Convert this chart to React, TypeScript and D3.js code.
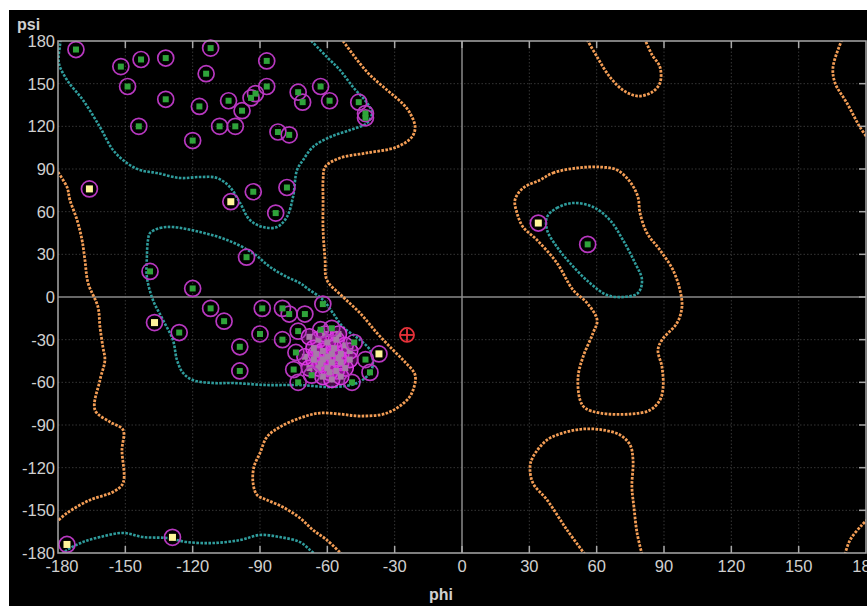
import React, { useEffect, useRef } from 'react';
import * as d3 from 'd3';

// tick values (degrees)
const ticks = [-180, -150, -120, -90, -60, -30, 0, 30, 60, 90, 120, 150, 180];

// residues: [phi, psi]
const greenPoints = [
  [-172, 174], [-152, 162], [-143, 167], [-132, 168], [-149, 148], [-132, 139], [-144, 120],
  [-112, 175], [-114, 157], [-120, 110], [-117, 134], [-104, 138], [-98, 131], [-94, 140],
  [-92, 143], [-87, 166], [-87, 148], [-108, 120], [-101, 120], [-73, 144], [-82, 116],
  [-77, 114], [-93, 74], [-78, 77], [-83, 59], [-71, 137], [-63, 148], [-59, 138],
  [-46, 137], [-43, 129], [-43, 126],
  [-139, 18], [-120, 6], [-126, -25], [-112, -8], [-106, -17], [-99, -35], [-99, -52],
  [-96, 28], [-89, -8], [-90, -26], [-80, -8], [-77, -12], [-80, -30], [-73, -60],
  [-70, -12], [-62, -5], [-73, -24], [-74, -39], [-75, -51], [-67, -55], [-63, -23],
  [-58, -22], [-48, -32], [-49, -60], [-43, -44], [-41, -53],
  [56, 37],
];

const clusterPoints = [
  [-68, -28], [-64, -30], [-60, -32], [-56, -30], [-52, -34], [-66, -36], [-62, -38],
  [-58, -40], [-54, -40], [-50, -38], [-70, -42], [-66, -44], [-62, -44], [-58, -46],
  [-54, -46], [-50, -44], [-64, -50], [-60, -50], [-56, -52], [-52, -50], [-68, -50],
  [-62, -56], [-58, -58], [-54, -56], [-60, -42], [-57, -36], [-63, -47], [-55, -43],
  [-65, -40], [-59, -53], [-61, -26], [-55, -26],
];

const yellowPoints = [
  [-166, 76], [-103, 67], [-137, -18], [-37, -40], [-176, -174], [-129, -169], [34, 52],
];

const outlierPoints = [[-24.5, -26.7]];

// allowed region contours (orange), open polylines clipped at the box
const allowedLines = [
  [[-53, 180], [-42.3, 158.2], [-33.4, 145.5], [-26.7, 136.4], [-23.2, 129.4], [-20.9, 119.5],
   [-22.3, 112.5], [-29, 105.5], [-42.3, 101.3], [-54.4, 97.7], [-61, 91.4], [-61.9, 82.3],
   [-61.9, 68.2], [-61.9, 47.1], [-61, 26], [-60.2, 12], [-53, 0], [-45.4, -11.3],
   [-37.9, -25.3], [-30.7, -37.3], [-25.4, -45.7], [-20.9, -54.8], [-21.8, -65.4],
   [-24.5, -72.4], [-33.4, -81.6], [-45.4, -83.7], [-54.4, -82.3], [-63.3, -81.6],
   [-72.2, -85.1], [-81.1, -91.4], [-86.9, -98.4], [-90, -109.7], [-92.7, -119.5],
   [-93.1, -130.8], [-91.3, -139.2], [-86.9, -142.7], [-79.8, -147.7], [-72.2, -155.4],
   [-66.4, -163.8], [-60.2, -170.9], [-53.5, -181]],
  [[-181, 90], [-176, 77.3], [-174.7, 68.2], [-171.5, 54.1], [-169.3, 40.1], [-168, 26],
   [-166.6, 9.8], [-162.2, -7], [-161.3, -21.1], [-160, -35.2], [-159.1, -44.3],
   [-161.3, -58.4], [-163.5, -79.5], [-156.8, -87.9], [-151, -93.5], [-151.5, -107.6],
   [-151, -130.8], [-155.5, -137.1], [-165.7, -142.7], [-176, -151.9], [-181, -158.8]],
  [[169.3, 181], [165.3, 161.7], [166.2, 150.5], [171.5, 136.4], [177.3, 119.5], [181, 111]],
  [[170.6, -181], [172.9, -170.9], [178.2, -160.3], [181, -156]],
  [[54.8, -181], [46.8, -163.8], [37.9, -142.7], [31.6, -130.8], [30.3, -119.5], [31.6, -112.5],
   [37.9, -100.5], [45, -95.6], [53.9, -92.8], [62.8, -93.5], [70.4, -97], [74.9, -104.1],
   [76.2, -114.6], [75.7, -133.6], [76.6, -147.7], [78, -165.9], [80.2, -181]],
  [[55.7, 181], [60.2, 168.8], [65.9, 154.7], [71.7, 145.5], [78.4, 141.3], [84.7, 144.1],
   [88.2, 150.5], [88.2, 161.7], [84.7, 170.2], [81.5, 181]],
];

const allowedLoops = [
  [[34.8, 82.3], [40.5, 87.2], [51.2, 90.7], [61.5, 91.4], [69.1, 89.3], [74.9, 80.9],
   [78.4, 70.3], [79.3, 59.1], [82.4, 45], [88.2, 33], [94, 19], [97.1, 4.9], [98, -7],
   [95.8, -18.3], [89.1, -30.2], [87.3, -37.3], [89.1, -49.2], [89.6, -63.3], [88.2, -72.4],
   [83.8, -79.5], [74.9, -82.3], [61.5, -81.6], [54.8, -78], [52.6, -72.4], [51.7, -56.3],
   [53.9, -42.2], [58.4, -25.3], [60.2, -16.2], [55.7, -4.2], [49.5, 4.9], [42.3, 23.9],
   [33.4, 40.1], [27.2, 49.2], [24.5, 59.1], [23.6, 68.2], [27.2, 76.6]],
];

// favoured region contours (teal)
const favouredLines = [
  [[-178.8, 181], [-179.1, 177.2], [-179.6, 164.5], [-176, 152.6], [-168.9, 138.5],
   [-161.3, 119.5], [-155.5, 103.4], [-149.3, 94.2], [-143.5, 89.3], [-135.9, 87.2],
   [-125.7, 83.7], [-116.7, 84.4], [-109.2, 83.7], [-103.4, 77.3], [-98.9, 66.1],
   [-94.5, 54.1], [-88.7, 49.2], [-82.4, 49.2], [-78, 56.3], [-75.3, 70.3], [-73.5, 89.3],
   [-70.8, 96.3], [-66.4, 105.5], [-58.8, 112.5], [-49.9, 117.4], [-42.3, 122.3],
   [-40.1, 129.4], [-42.3, 136.4], [-48.6, 147.7], [-54.4, 159.6], [-60.2, 168.8],
   [-67.7, 181]],
  [[-178.2, -181], [-176, -177.9], [-168.9, -172.3], [-161.3, -168.8], [-151, -165.9],
   [-142.1, -168.8], [-131.4, -169.5], [-122.5, -172.3], [-110.9, -173], [-98.9, -170.9],
   [-90, -167.3], [-81.1, -168.8], [-72.2, -172.3], [-67.7, -177.9], [-65.5, -181]],
];

const favouredLoops = [
  [[-139, 45], [-134.6, 48.5], [-128.8, 49.2], [-116.7, 45.7], [-104.7, 40.1], [-93.1, 30.9],
   [-85.5, 21.1], [-78, 14.1], [-72.2, 9.8], [-69.1, 6.3], [-61.9, -2.1], [-57.5, -11.3],
   [-53, -21.1], [-45.4, -30.2], [-41, -37.3], [-39.7, -46.4], [-41, -53.4], [-46.8, -60.5],
   [-57.5, -63.3], [-72.2, -61.9], [-86.9, -61.9], [-102, -60.5], [-110.9, -60.5],
   [-119.9, -58.4], [-124.3, -53.4], [-127, -44.3], [-128.8, -30.2], [-133.2, -16.2],
   [-137.7, -2.1], [-140.4, 14.1], [-140.4, 28.1], [-139.9, 40.1]],
  [[37.9, 56.3], [42.3, 62.6], [49.5, 66.1], [58.4, 63.3], [65.9, 54.1], [71.7, 40.1],
   [77.1, 23.9], [80.2, 12], [78.4, 2.8], [71.7, 0], [64.6, 1.4], [57, 9.8], [48.1, 23.9],
   [42.3, 35.2], [37.9, 47.1]],
];

function Ramachandran() {
  const ref = useRef<SVGSVGElement>(null);

  useEffect(() => {
    const W = 867, H = 606;
    const left = 58, right = 866, top = 41, bottom = 553;
    const svg = d3.select(ref.current);
    svg.selectAll('*').remove();

    const x = d3.scaleLinear().domain([-180, 180]).range([left, right]);
    const y = d3.scaleLinear().domain([-180, 180]).range([bottom, top]);

    svg.append('rect').attr('width', W).attr('height', H).attr('fill', '#fff');
    svg.append('rect').attr('x', 9).attr('y', 10).attr('width', W - 9).attr('height', H - 10).attr('fill', '#000');

    svg.append('defs').append('clipPath').attr('id', 'plotclip')
      .append('rect').attr('x', left).attr('y', top).attr('width', right - left).attr('height', bottom - top);

    // grid
    const grid = svg.append('g');
    const gridTicks = ticks.filter(t => t !== 0 && Math.abs(t) !== 180);
    grid.selectAll('line.gx').data(gridTicks).join('line')
      .attr('x1', d => x(d)).attr('x2', d => x(d)).attr('y1', top).attr('y2', bottom)
      .attr('stroke', '#353535').attr('stroke-width', 1).attr('stroke-dasharray', '1.5 2');
    grid.selectAll('line.gy').data(gridTicks).join('line')
      .attr('y1', d => y(d)).attr('y2', d => y(d)).attr('x1', left).attr('x2', right)
      .attr('stroke', '#353535').attr('stroke-width', 1).attr('stroke-dasharray', '1.5 2');
    grid.append('line').attr('x1', x(0)).attr('x2', x(0)).attr('y1', top).attr('y2', bottom)
      .attr('stroke', '#8a8a8a').attr('stroke-width', 1.5);
    grid.append('line').attr('y1', y(0)).attr('y2', y(0)).attr('x1', left).attr('x2', right)
      .attr('stroke', '#8a8a8a').attr('stroke-width', 1.5);

    // contours
    const plot = svg.append('g').attr('clip-path', 'url(#plotclip)');
    const line = d3.line<number[]>().x(d => x(d[0])).y(d => y(d[1])).curve(d3.curveCatmullRom);
    const loop = d3.line<number[]>().x(d => x(d[0])).y(d => y(d[1])).curve(d3.curveCatmullRomClosed);
    const dash = '2.6 1.4';
    const orange = '#f39d55', teal = '#2f9c9c';
    plot.selectAll('path.al').data(allowedLines).join('path').attr('d', d => line(d))
      .attr('fill', 'none').attr('stroke', orange).attr('stroke-width', 2.8).attr('stroke-dasharray', dash);
    plot.selectAll('path.alp').data(allowedLoops).join('path').attr('d', d => loop(d))
      .attr('fill', 'none').attr('stroke', orange).attr('stroke-width', 2.8).attr('stroke-dasharray', dash);
    plot.selectAll('path.fv').data(favouredLines).join('path').attr('d', d => line(d))
      .attr('fill', 'none').attr('stroke', teal).attr('stroke-width', 2.6).attr('stroke-dasharray', dash);
    plot.selectAll('path.fvl').data(favouredLoops).join('path').attr('d', d => loop(d))
      .attr('fill', 'none').attr('stroke', teal).attr('stroke-width', 2.6).attr('stroke-dasharray', dash);

    // residues
    const pts = svg.append('g');
    pts.selectAll('circle.c').data(clusterPoints).join('circle')
      .attr('cx', d => x(d[0])).attr('cy', d => y(d[1])).attr('r', 8)
      .attr('fill', '#e020e0').attr('fill-opacity', 0.3).attr('stroke', '#d83ce0').attr('stroke-width', 1.6);
    pts.selectAll('rect.c').data(clusterPoints).join('rect')
      .attr('x', d => x(d[0]) - 3).attr('y', d => y(d[1]) - 3).attr('width', 6).attr('height', 6)
      .attr('fill', '#a77aa8');

    const ring = (data: number[][], fill: string, size: number) => {
      pts.selectAll(null).data(data).join('circle')
        .attr('cx', d => x(d[0])).attr('cy', d => y(d[1])).attr('r', 8)
        .attr('fill', 'none').attr('stroke', '#b838c0').attr('stroke-width', 1.7);
      pts.selectAll(null).data(data).join('rect')
        .attr('x', d => x(d[0]) - size / 2).attr('y', d => y(d[1]) - size / 2)
        .attr('width', size).attr('height', size).attr('fill', fill);
    };
    ring(greenPoints, '#2fa33a', 6);
    ring(yellowPoints, '#fff59a', 7);

    pts.selectAll('g.out').data(outlierPoints).join('g')
      .attr('transform', d => `translate(${x(d[0])},${y(d[1])})`)
      .each(function () {
        const g = d3.select(this);
        g.append('circle').attr('r', 7).attr('fill', 'none').attr('stroke', '#e8323a').attr('stroke-width', 1.8);
        g.append('line').attr('x1', -6).attr('x2', 6).attr('stroke', '#e8323a').attr('stroke-width', 1.8);
        g.append('line').attr('y1', -6).attr('y2', 6).attr('stroke', '#e8323a').attr('stroke-width', 1.8);
      });

    // frame and ticks
    const axisColor = '#a8a8a8';
    svg.append('rect').attr('x', left).attr('y', top).attr('width', right - left).attr('height', bottom - top)
      .attr('fill', 'none').attr('stroke', axisColor).attr('stroke-width', 1.5);
    const inner = ticks.filter(t => Math.abs(t) !== 180);
    const tk = svg.append('g').attr('stroke', axisColor).attr('stroke-width', 1.5);
    inner.forEach(t => {
      tk.append('line').attr('x1', x(t)).attr('x2', x(t)).attr('y1', top).attr('y2', top + 7);
      tk.append('line').attr('x1', x(t)).attr('x2', x(t)).attr('y1', bottom).attr('y2', bottom - 7);
      tk.append('line').attr('y1', y(t)).attr('y2', y(t)).attr('x1', right).attr('x2', right - 7);
    });

    const font = 'Liberation Sans, Arial, sans-serif';
    svg.append('g').selectAll('text').data(ticks).join('text')
      .attr('x', d => x(d) + (d === -180 ? 4 : 0)).attr('y', bottom + 19)
      .attr('text-anchor', 'middle').attr('font-family', font).attr('font-size', 16.5)
      .attr('fill', '#d0d0d0').text(d => String(d));
    svg.append('g').selectAll('text').data(ticks).join('text')
      .attr('x', left - 3).attr('y', d => y(d) + 6)
      .attr('text-anchor', 'end').attr('font-family', font).attr('font-size', 16.5)
      .attr('fill', '#d0d0d0').text(d => String(d));

    svg.append('text').attr('x', 17).attr('y', 30).attr('font-family', font).attr('font-size', 16)
      .attr('font-weight', 'bold').attr('fill', '#d0d0d0').text('psi');
    svg.append('text').attr('x', 441).attr('y', 600).attr('text-anchor', 'middle').attr('font-family', font)
      .attr('font-size', 16).attr('font-weight', 'bold').attr('fill', '#d0d0d0').text('phi');
  }, []);

  return <svg ref={ref} width={867} height={606} style={{ position: 'absolute', left: 0, top: 0 }} />;
}

export default function App() {
  return <Ramachandran />;
}
